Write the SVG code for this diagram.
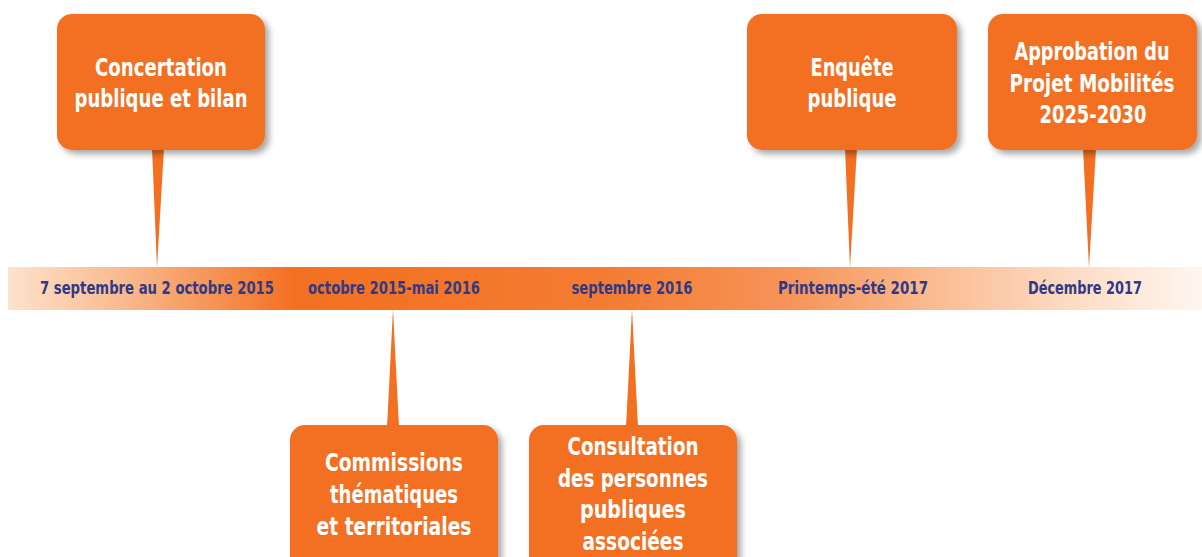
<svg xmlns="http://www.w3.org/2000/svg" width="1202" height="557" viewBox="0 0 1202 557">
<defs>
<linearGradient id="band" x1="8" y1="0" x2="1202" y2="0" gradientUnits="userSpaceOnUse">
<stop offset="0" stop-color="#fde2cc"/>
<stop offset="0.1" stop-color="#f9b88c"/>
<stop offset="0.24" stop-color="#f37021"/>
<stop offset="0.5" stop-color="#f47c32"/>
<stop offset="0.66" stop-color="#f6955a"/>
<stop offset="0.8" stop-color="#fbc39c"/>
<stop offset="0.92" stop-color="#fde3d0"/>
<stop offset="1" stop-color="#fff6ef"/>
</linearGradient>
<filter id="sh" x="-10%" y="-10%" width="125%" height="130%">
<feDropShadow dx="4" dy="4" stdDeviation="3" flood-color="#000" flood-opacity="0.35"/>
</filter>
</defs>
<style>
.box{fill:#f37021;filter:url(#sh)}
.ptr{fill:#f37021}
.t{font-family:"Liberation Sans Narrow","DejaVu Sans Condensed","DejaVu Sans",sans-serif;font-stretch:condensed;font-weight:bold;font-size:25px;fill:#fff;text-anchor:middle}
.d{font-family:"Liberation Sans Narrow","DejaVu Sans Condensed","DejaVu Sans",sans-serif;font-stretch:condensed;font-weight:bold;font-size:17px;fill:#2e3a88;text-anchor:middle}
</style>
<rect width="1202" height="557" fill="#fff"/>
<g id="timeline">
<rect x="8" y="267" width="1194" height="43" fill="url(#band)"/>
<text class="d" x="157" y="294" textLength="234" lengthAdjust="spacingAndGlyphs">7 septembre au 2 octobre 2015</text>
<text class="d" x="394" y="294" textLength="172" lengthAdjust="spacingAndGlyphs">octobre 2015-mai 2016</text>
<text class="d" x="632" y="294" textLength="121" lengthAdjust="spacingAndGlyphs">septembre 2016</text>
<text class="d" x="853" y="294" textLength="150" lengthAdjust="spacingAndGlyphs">Printemps-été 2017</text>
<text class="d" x="1085" y="294" textLength="114" lengthAdjust="spacingAndGlyphs">Décembre 2017</text>
</g>
<g id="connectors">
<polygon class="ptr" points="152,148 164,148 157,268"/>
<polygon class="ptr" points="845,148 857,148 850,268"/>
<polygon class="ptr" points="1083,148 1096,148 1089,268"/>
<polygon class="ptr" points="393,309 387,427 399,427"/>
<polygon class="ptr" points="632,309 626,427 638,427"/>
</g>
<g id="n-concertation">
<rect class="box" x="57" y="14" width="208" height="136" rx="15"/>
<text class="t" x="161" y="76" textLength="132" lengthAdjust="spacingAndGlyphs">Concertation</text>
<text class="t" x="161" y="107" textLength="173" lengthAdjust="spacingAndGlyphs">publique et bilan</text>
</g>
<g id="n-enquete">
<rect class="box" x="747" y="14" width="210" height="136" rx="15"/>
<text class="t" x="852" y="76" textLength="83" lengthAdjust="spacingAndGlyphs">Enquête</text>
<text class="t" x="852" y="107" textLength="89" lengthAdjust="spacingAndGlyphs">publique</text>
</g>
<g id="n-approbation">
<rect class="box" x="988" y="14" width="209" height="136" rx="15"/>
<text class="t" x="1092" y="60" textLength="155" lengthAdjust="spacingAndGlyphs">Approbation du</text>
<text class="t" x="1092" y="92" textLength="165" lengthAdjust="spacingAndGlyphs">Projet Mobilités</text>
<text class="t" x="1093" y="123" textLength="107" lengthAdjust="spacingAndGlyphs">2025-2030</text>
</g>
<g id="n-commissions">
<rect class="box" x="290" y="425" width="208" height="150" rx="15"/>
<text class="t" x="394" y="471" textLength="138" lengthAdjust="spacingAndGlyphs">Commissions</text>
<text class="t" x="394" y="503" textLength="128" lengthAdjust="spacingAndGlyphs">thématiques</text>
<text class="t" x="394" y="535" textLength="155" lengthAdjust="spacingAndGlyphs">et territoriales</text>
</g>
<g id="n-consultation">
<rect class="box" x="529" y="425" width="208" height="150" rx="15"/>
<text class="t" x="633" y="455" textLength="131" lengthAdjust="spacingAndGlyphs">Consultation</text>
<text class="t" x="633" y="487" textLength="150" lengthAdjust="spacingAndGlyphs">des personnes</text>
<text class="t" x="633" y="518" textLength="106" lengthAdjust="spacingAndGlyphs">publiques</text>
<text class="t" x="633" y="550" textLength="101" lengthAdjust="spacingAndGlyphs">associées</text>
</g>
</svg>
